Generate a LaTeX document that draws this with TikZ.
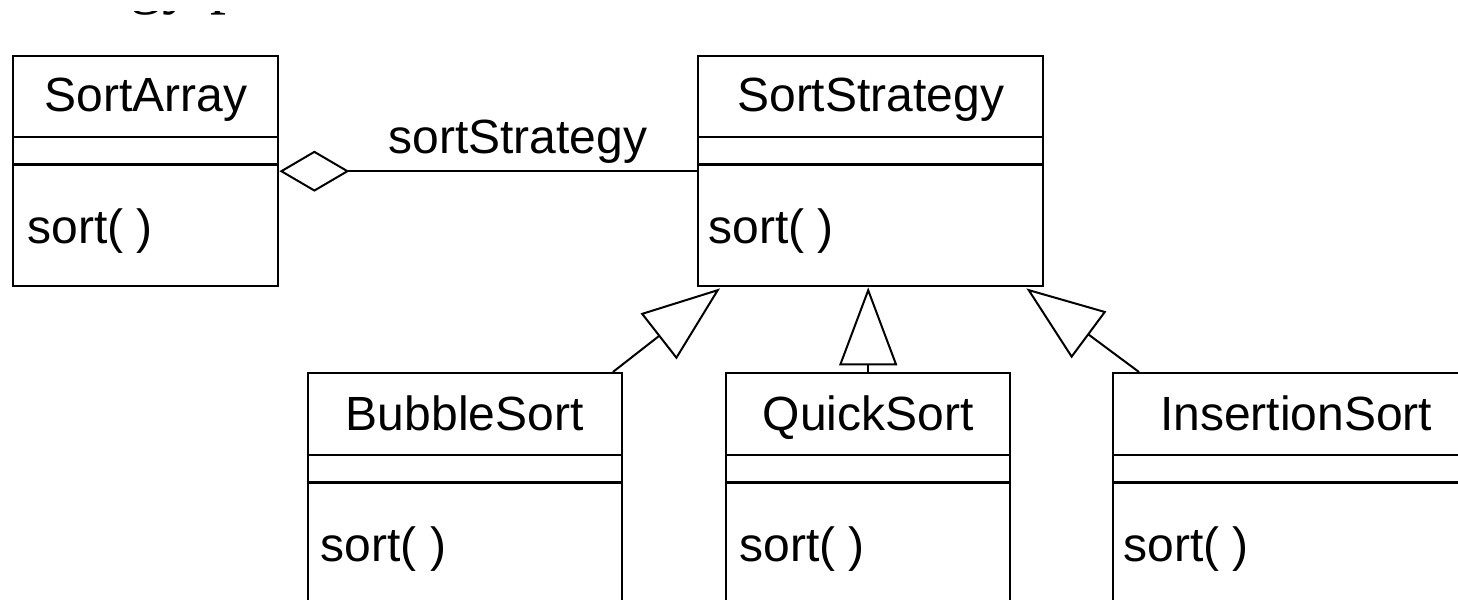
\documentclass[tikz,border=0pt]{standalone}
\usepackage{fontspec}
\setmainfont{Liberation Sans}
\newfontfamily\titlefont{Liberation Serif}
\usetikzlibrary{arrows.meta,calc}
\begin{document}
\begin{tikzpicture}[x=0.5pt,y=-0.5pt,
  classbox/.style={draw, line width=1.2pt, inner sep=0pt, anchor=north west, fill=white},
  divider/.style={line width=1.2pt},
  cname/.style={font=\fontsize{24}{28}\selectfont, anchor=base, inner sep=0pt},
  meth/.style={font=\fontsize{24}{28}\selectfont, anchor=base west, inner sep=0pt},
  link/.style={line width=1pt},
  aggr/.style={link, {Diamond[open, length=35pt, width=20.5pt]}-},
  inherit/.style={link, -{Triangle[open, length=39pt, width=29pt]}}]
\useasboundingbox (0,0) rectangle (1458,600);
\clip (0,0) rectangle (1458,600);
\fill[white] (0,0) rectangle (1458,600);

% title, cut off: only the lowest tips of its descenders show
\begin{scope}
  \clip (0,11.5) rectangle (420,22);
  \node[anchor=base west, inner sep=0pt, font=\titlefont\fontsize{32}{36}\selectfont] (title) at (-19,1) {Strategy pattern};
\end{scope}

% SortArray
\node[classbox, minimum width=132.5pt, minimum height=115pt] (sa) at (12,55) {};
\draw[divider] ($(sa.north west)+(0,82)$) -- ($(sa.north east)+(0,82)$);
\draw[divider] ($(sa.north west)+(0,109.5)$) -- ($(sa.north east)+(0,109.5)$);
\node[cname] (saN) at ($(sa.north)+(0,56.7)$) {SortArray};
\node[meth] (saM) at ($(sa.north west)+(15,188)$) {sort( )};

% SortStrategy
\node[classbox, minimum width=172.5pt, minimum height=115pt] (ss) at (697,55) {};
\draw[divider] ($(ss.north west)+(0,82)$) -- ($(ss.north east)+(0,82)$);
\draw[divider] ($(ss.north west)+(0,109.5)$) -- ($(ss.north east)+(0,109.5)$);
\node[cname] (ssN) at ($(ss.north)+(0,56.7)$) {SortStrategy};
\node[meth] (ssM) at ($(ss.north west)+(11,188)$) {sort( )};

% BubbleSort
\node[classbox, minimum width=157pt, minimum height=124pt] (bs) at (306.5,372) {};
\draw[divider] ($(bs.north west)+(0,83)$) -- ($(bs.north east)+(0,83)$);
\draw[divider] ($(bs.north west)+(0,110.5)$) -- ($(bs.north east)+(0,110.5)$);
\node[cname] (bsN) at ($(bs.north)+(0,58)$) {BubbleSort};
\node[meth] (bsM) at ($(bs.north west)+(14,189.5)$) {sort( )};

% QuickSort
\node[classbox, minimum width=142pt, minimum height=124pt] (qs) at (725,372) {};
\draw[divider] ($(qs.north west)+(0,83)$) -- ($(qs.north east)+(0,83)$);
\draw[divider] ($(qs.north west)+(0,110.5)$) -- ($(qs.north east)+(0,110.5)$);
\node[cname] (qsN) at ($(qs.north)+(0,58)$) {QuickSort};
\node[meth] (qsM) at ($(qs.north west)+(14,189.5)$) {sort( )};

% InsertionSort
\node[classbox, minimum width=183pt, minimum height=124pt] (is) at (1112,372) {};
\draw[divider] ($(is.north west)+(0,83)$) -- ($(is.north east)+(0,83)$);
\draw[divider] ($(is.north west)+(0,110.5)$) -- ($(is.north east)+(0,110.5)$);
\node[cname] (isN) at ($(is.north)+(0,58)$) {InsertionSort};
\node[meth] (isM) at ($(is.north west)+(11,189.5)$) {sort( )};

% aggregation
\draw[aggr] (sa.east) -- (ss.west);
\node[meth] (role) at (388,153) {sortStrategy};

% generalisations
\draw[inherit] ($(bs.north east)+(-10,0)$) -- ($(ss.south west)+(23,1)$);
\draw[inherit] (qs.north) -- (qs.north |- ss.south);
\draw[inherit] ($(is.north west)+(27,0)$) -- ($(ss.south east)+(-18,1)$);
\end{tikzpicture}
\end{document}
